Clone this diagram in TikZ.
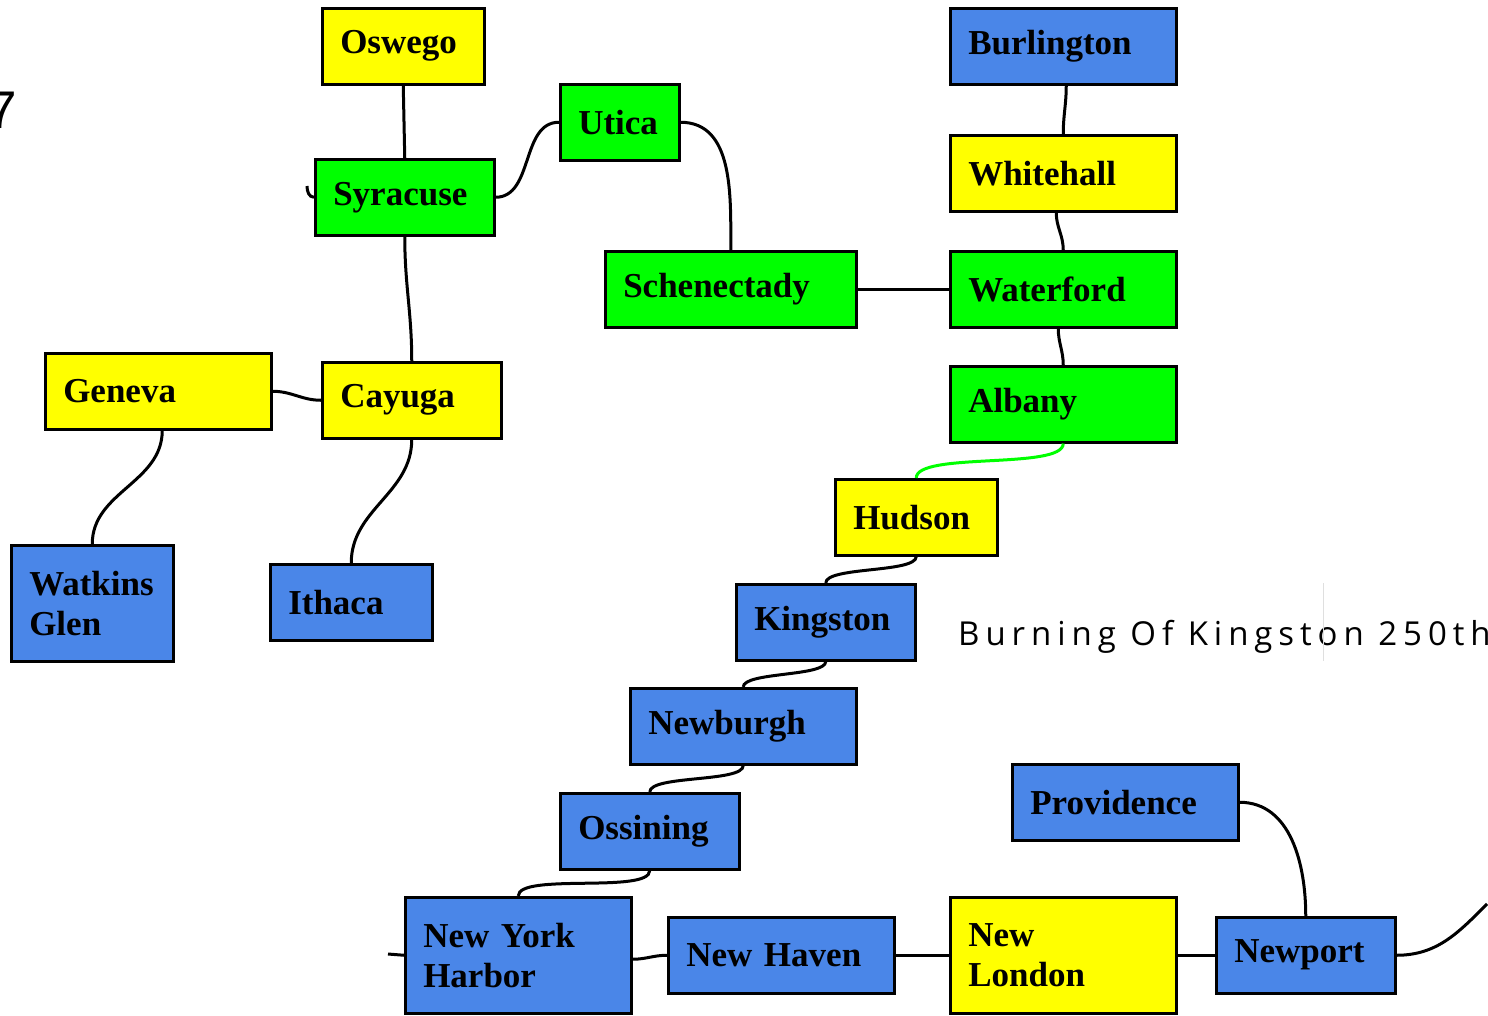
\documentclass[tikz,border=0pt]{standalone}
\usepackage{fontspec}
\setmainfont{Liberation Serif}
\newfontfamily\captionfont[LetterSpace=18]{Open Sans}
\newfontfamily\cornerfont{Liberation Sans}
\definecolor{cityyellow}{RGB}{255,255,0}
\definecolor{citygreen}{RGB}{0,255,0}
\definecolor{cityblue}{RGB}{74,134,232}
\begin{document}
\begin{tikzpicture}
    [x=1pt, y=-1pt,
     city/.style={draw=black, line width=2.5pt, anchor=north west, inner xsep=18pt, inner ysep=0pt,
                  minimum height=76pt, align=left, font=\bfseries\fontsize{35}{40}\selectfont},
     yellowcity/.style={city, fill=cityyellow}, greencity/.style={city, fill=citygreen},
     bluecity/.style={city, fill=cityblue},
     narrow/.style={text width=126pt}, middle/.style={text width=143pt}, wide/.style={text width=190pt},
     tall/.style={minimum height=116pt},
     link/.style={line width=3pt}, flat/.style={link, looseness=0.45}]
    \useasboundingbox (0,0) rectangle (1488,1015);
    % western branch
    \node[yellowcity, narrow] (oswego) at (321,7) {Oswego};
    \node[greencity, middle] (syracuse) at (314,158) {Syracuse};
    \node[greencity, text width=83pt] (utica) at (559,83) {Utica};
    \node[greencity, text width=215pt] (schenectady) at (604,250) {Schenectady};
    \node[yellowcity, wide] (geneva) at (44,352) {Geneva};
    \node[yellowcity, middle] (cayuga) at (321,361) {Cayuga};
    \node[bluecity, narrow, tall] (watkins) at (10,544) {Watkins\\Glen};
    \node[bluecity, narrow] (ithaca) at (269,563) {Ithaca};
    % northern branch
    \node[bluecity, wide] (burlington) at (949,7) {Burlington};
    \node[yellowcity, wide] (whitehall) at (949,134) {Whitehall};
    \node[greencity, wide] (waterford) at (949,250) {Waterford};
    \node[greencity, wide] (albany) at (949,365) {Albany};
    % down the river
    \node[yellowcity, narrow] (hudson) at (834,478) {Hudson};
    \node[bluecity, middle] (kingston) at (735,583) {Kingston};
    \node[bluecity, wide] (newburgh) at (629,687) {Newburgh};
    \node[bluecity, middle] (ossining) at (559,792) {Ossining};
    \node[bluecity, wide, tall] (nyharbor) at (404,896) {New York\\Harbor};
    % along the coast
    \node[bluecity, wide] (newhaven) at (667,916) {New Haven};
    \node[yellowcity, wide, tall] (newlondon) at (949,896) {New\\London};
    \node[bluecity, middle] (newport) at (1215,916) {Newport};
    \node[bluecity, wide] (providence) at (1011,763) {Providence};
    \node[anchor=base west, inner sep=0pt, font=\captionfont\fontsize{33}{38}\selectfont] (caption)
        at (958,645) {Burning Of Kingston 250th};
    \node[anchor=base east, inner sep=0pt, font=\cornerfont\fontsize{53}{60}\selectfont] (corner)
        at (17,128) {7};
    \draw[gray!25, line width=1pt] (1323,583) -- (1323,661);
    \coordinate (syrstub) at (307,186);
    \coordinate (nyhstub) at (388,954);
    \coordinate (eaststub) at (1487,904);
    \draw[link] (oswego.south) -- (syracuse.north);
    \draw[link] (syrstub) to[out=-90, in=180] (syracuse.west);
    \draw[link] (syracuse.east) to[out=0, in=180] (utica.west);
    \draw[link] (utica.east) to[out=0, in=90] (schenectady.north);
    \draw[link] (syracuse.south) to[out=-90, in=90] (cayuga.north);
    \draw[link] (geneva.east) to[out=0, in=180] (cayuga.west);
    \draw[link] ([xshift=4pt]geneva.south) to[out=-90, in=90] (watkins.north);
    \draw[link] (cayuga.south) to[out=-90, in=90] (ithaca.north);
    \draw[link] (schenectady.east) -- (waterford.west);
    \draw[link] ([xshift=3pt]burlington.south) to[out=-90, in=90] (whitehall.north);
    \draw[link] ([xshift=-7pt]whitehall.south) to[out=-90, in=90] (waterford.north);
    \draw[link] ([xshift=-5pt]waterford.south) to[out=-90, in=90] (albany.north);
    \draw[flat, draw=citygreen] (albany.south) to[out=-90, in=90] (hudson.north);
    \draw[flat] (hudson.south) to[out=-90, in=90] (kingston.north);
    \draw[flat] (kingston.south) to[out=-90, in=90] (newburgh.north);
    \draw[flat] (newburgh.south) to[out=-90, in=90] (ossining.north);
    \draw[flat] (ossining.south) to[out=-90, in=90] (nyharbor.north);
    \draw[link] (nyhstub) -- (nyharbor.west);
    \draw[link] ([yshift=-4pt]nyharbor.east) to[out=0, in=180] (newhaven.west);
    \draw[link] (newhaven.east) to[out=0, in=180] (newlondon.west);
    \draw[link] (newlondon.east) to[out=0, in=180] (newport.west);
    \draw[link] (providence.east) to[out=0, in=90] (newport.north);
    \draw[link] (newport.east) to[out=0, in=225] (eaststub);
\end{tikzpicture}
\end{document}
